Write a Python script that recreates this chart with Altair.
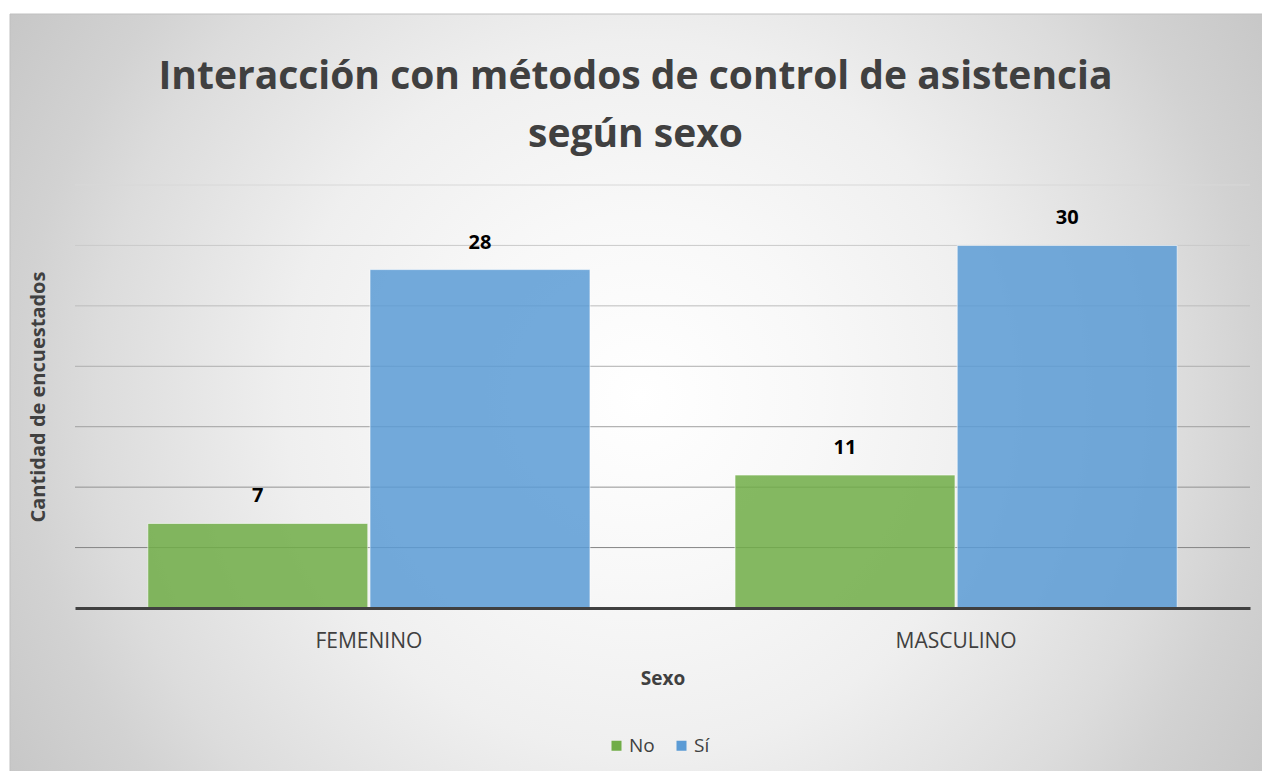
import altair as alt
import pandas as pd

sexo = ["FEMENINO", "MASCULINO"]
respuesta = ["No", "Sí"]
no_vals = [7, 11]
si_vals = [28, 30]
grid_vals = [5, 10, 15, 20, 25, 30, 35]

rows = []
for i, s in enumerate(sexo):
    rows.append({"Sexo": s, "Respuesta": "No", "Cantidad": no_vals[i]})
    rows.append({"Sexo": s, "Respuesta": "Sí", "Cantidad": si_vals[i]})
df = pd.DataFrame(rows)
grid_df = pd.DataFrame({"Cantidad": grid_vals})

W, H = 1175, 423
FONT = "Open Sans"
TXT = "#404040"

yscale = alt.Scale(domain=[0, 35], nice=False)

bg = alt.Chart(alt.Data(values=[{"a": 1}])).mark_rect(
    fill=alt.RadialGradient(
        gradient="radial", x1=0.5, y1=0.5, r1=0, x2=0.5, y2=0.5, r2=0.6,
        stops=[
            alt.GradientStop(offset=0, color="#ffffff"),
            alt.GradientStop(offset=0.24, color="#f8f8f8"),
            alt.GradientStop(offset=0.47, color="#efefef"),
            alt.GradientStop(offset=0.72, color="#dcdcdc"),
            alt.GradientStop(offset=0.82, color="#d2d2d2"),
            alt.GradientStop(offset=1, color="#c5c5c5"),
        ],
    ),
    stroke="#c0c0c0", strokeWidth=1,
).encode(x=alt.value(-65), x2=alt.value(1195), y=alt.value(-171), y2=alt.value(594))

x_enc = alt.X(
    "Sexo:N", sort=sexo,
    scale=alt.Scale(paddingInner=0.247, paddingOuter=0.124),
    axis=alt.Axis(
        title="Sexo", labelAngle=0, labelFont=FONT, labelFontSize=21, labelColor=TXT,
        labelPadding=22, ticks=False, tickSize=0, domainColor=TXT, domainWidth=3,
        titleFont=FONT, titleFontSize=19, titleFontWeight="bold", titleColor=TXT,
        titlePadding=18, grid=False, zindex=1,
    ),
)
xoff = alt.XOffset("Respuesta:N", sort=respuesta, scale=alt.Scale(paddingInner=0.01, paddingOuter=0))
y_axis = alt.Axis(
    title="Cantidad de encuestados", labels=False, ticks=False, tickSize=0, domain=False,
    grid=False, titleFont=FONT, titleFontSize=20, titleFontWeight="bold", titleColor=TXT,
    titlePadding=27, zindex=1,
)
y_enc = alt.Y("Cantidad:Q", scale=yscale, axis=y_axis)

grid = alt.Chart(grid_df).mark_rule(strokeWidth=1).encode(
    y=y_enc,
    stroke=alt.Stroke("Cantidad:Q", scale=alt.Scale(domain=[5, 35], range=["#858585", "#d8d8d8"]), legend=None),
)

bars = alt.Chart(df).mark_bar(fillOpacity=0.85, stroke="white", strokeWidth=1, strokeOpacity=0.6).encode(
    x=x_enc, xOffset=xoff, y=y_enc,
    color=alt.Color(
        "Respuesta:N", sort=respuesta,
        scale=alt.Scale(domain=respuesta, range=["#70AD47", "#5B9BD5"]),
        legend=alt.Legend(
            orient="none", legendX=532, legendY=551, direction="horizontal", title=None,
            symbolType="square", symbolSize=100, symbolStrokeWidth=0, labelFont=FONT,
            labelFontSize=19, labelColor=TXT, columnPadding=17, labelOffset=3, padding=0,
        ),
    ),
)

labels = alt.Chart(df).mark_text(
    dy=-27, fontSize=20, fontWeight="bold", font=FONT, color="black", baseline="middle"
).encode(x=x_enc, xOffset=xoff, y=y_enc, text=alt.Text("Cantidad:Q"))

chart = alt.layer(bg, grid, bars, labels).properties(
    width=W, height=H,
    padding={"left": 67, "top": 177, "right": 12, "bottom": 163},
    autosize=alt.AutoSizeParams(type="none"),
    title=alt.TitleParams(
        text=["Interacción con métodos de control de asistencia", "según sexo"],
        font=FONT, fontSize=39, fontWeight="bold", color=TXT, anchor="middle",
        frame="group", dx=-27, offset=-141, lineHeight=58,
    ),
).configure_view(stroke=None)

chart.save("out.html", embed_options={"renderer": "svg", "actions": False})
